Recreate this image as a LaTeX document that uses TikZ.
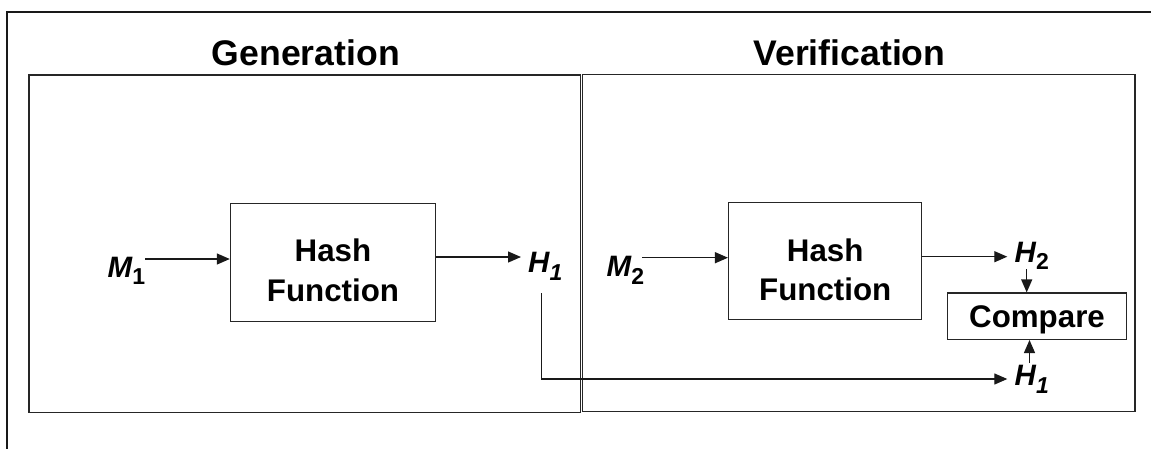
\documentclass[tikz,border=0pt]{standalone}
\usepackage{fontspec}
\setmainfont{Liberation Sans}
\usetikzlibrary{arrows.meta}
\newcommand\mysub[1]{\raisebox{-7.5pt}{\fontsize{23}{23}\selectfont #1}}
\begin{document}
\begin{tikzpicture}[x=1pt,y=-1pt,
  frame/.style={line width=2pt, draw=black!90},
  panel/.style={draw=black!85, line width=1.3pt, inner sep=0pt, anchor=north west},
  box/.style={draw=black!85, line width=1.3pt, inner sep=0pt},
  title/.style={font=\fontsize{35.6}{40}\selectfont\bfseries, anchor=base, inner sep=0pt},
  btext/.style={font=\fontsize{31.3}{40}\selectfont\bfseries, anchor=base, inner sep=0pt},
  lbl/.style={font=\fontsize{29.5}{32}\selectfont\bfseries, anchor=base west, inner sep=0pt},
  arr/.style={draw=black!90, line width=1.3pt, -{Triangle[length=13pt,width=11pt]}}
]
\useasboundingbox (0,0) rectangle (1151,448);
\fill[white] (0,0) rectangle (1151,448);
% outer frame (only left and top visible)
\draw[frame] (7.3,460) |- (1160,11.7);
% panels
\node[panel, minimum width=551.7pt, minimum height=337.7pt] (gen) at (28.3,74.3) {};
\node[panel, minimum width=552.3pt, minimum height=337.3pt] (ver) at (582,73.7) {};
% titles
\node[title] (gentitle) at (305.8,65.7) {Generation};
\node[title] (vertitle) at (849.5,65.7) {Verification};
% hash boxes
\node[box, minimum width=205.1pt, minimum height=118.4pt] (hash1) at (333,262.5) {};
\node[btext] (hash1a) at (333,261.7) {Hash};
\node[btext] (hash1b) at (333,301.7) {Function};
\node[box, minimum width=193.2pt, minimum height=116.6pt] (hash2) at (825.2,261) {};
\node[btext] (hash2a) at (825.2,261.7) {Hash};
\node[btext] (hash2b) at (825.2,300.3) {Function};
% compare
\node[box, minimum width=179pt, minimum height=46.3pt] (compare) at (1037,316.2) {};
\node[btext] (comparetext) at (1037,327.7) {Compare};
% labels
\node[lbl] (m1) at (107.5,277) {\itshape M\upshape\mysub{1}};
\node[lbl] (h1a) at (528,272.7) {\itshape H\mysub{1}};
\node[lbl] (m2) at (606.5,276.7) {\itshape M\upshape\mysub{2}};
\node[lbl] (h2) at (1014.5,262.3) {\itshape H\upshape\mysub{2}};
\node[lbl] (h1b) at (1014.5,385.7) {\itshape H\mysub{1}};
% connectors
\coordinate (m1out) at (145,259);
\draw[arr] (m1out) -- (m1out -| hash1.west);
\coordinate (h1in) at (521,257);
\draw[arr] (h1in -| hash1.east) -- (h1in);
\coordinate (m2out) at (642,257.7);
\draw[arr] (m2out) -- (m2out -| hash2.west);
\coordinate (h2in) at (1007.3,256.7);
\draw[arr] (h2in -| hash2.east) -- (h2in);
\coordinate (h1down) at (541.7,293.3);
\coordinate (h1bin) at (1007.3,379);
\draw[arr] (h1down) |- (h1bin);
\coordinate (h2dn) at (1026.7,269.3);
\draw[arr] (h2dn) -- (h2dn |- compare.north);
\coordinate (h1up) at (1029.5,363);
\draw[arr] (h1up) -- (h1up |- compare.south);
\end{tikzpicture}
\end{document}
